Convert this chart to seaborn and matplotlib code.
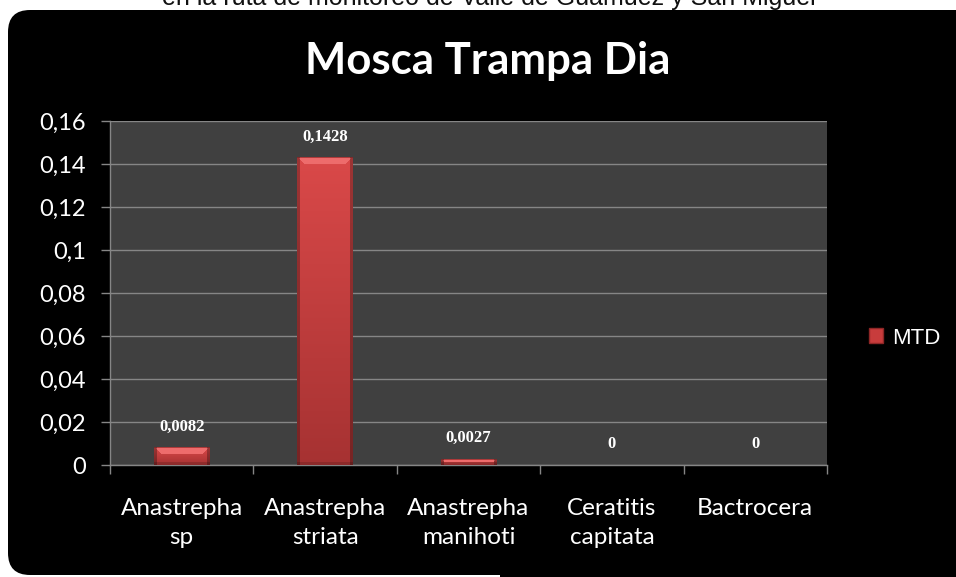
import numpy as np
import matplotlib
matplotlib.use("Agg")
import matplotlib.pyplot as plt
import seaborn as sns
from matplotlib.patches import FancyBboxPatch, Rectangle, Patch
from matplotlib.transforms import IdentityTransform
from matplotlib.colors import to_rgb

# ---------------- data ----------------
categories = ["Anastrepha\nsp", "Anastrepha\nstriata", "Anastrepha\nmanihoti",
              "Ceratitis\ncapitata", "Bactrocera"]
mtd_values = [0.0082, 0.1428, 0.0027, 0.0, 0.0]
value_labels = ["0,0082", "0,1428", "0,0027", "0", "0"]
y_ticks = [0.0, 0.02, 0.04, 0.06, 0.08, 0.10, 0.12, 0.14, 0.16]
y_tick_labels = ["0", "0,02", "0,04", "0,06", "0,08", "0,1", "0,12", "0,14", "0,16"]
title_text = "Mosca Trampa Dia"
caption_text = "en la ruta de monitoreo de Valle de Guamuez y San Miguel"
series_name = "MTD"

# ---------------- figure ----------------
W, H = 956, 577
fig = plt.figure(figsize=(W / 100, H / 100), dpi=100, facecolor="white")

# black rounded chart background (pixel coordinates)
bg = FancyBboxPatch((8, 2), 1000, H - 10 - 2,
                    boxstyle="round,pad=0,rounding_size=22",
                    transform=IdentityTransform(), facecolor="black",
                    edgecolor="none", zorder=-2)
fig.add_artist(bg)
fig.add_artist(Rectangle((500, -5), 500, 30, transform=IdentityTransform(),
                         facecolor="black", edgecolor="none", zorder=-2))

# caption (cut at top, as in the source image)
fig.text(489 / W, (H - 5) / H, caption_text, ha="center", va="baseline",
         fontsize=18, family="Liberation Sans", color="#111111")

# title
fig.text(488 / W, (H - 61) / H, title_text, ha="center", va="center",
         fontsize=31.5, family="Lato", fontweight="bold", color="white")

# axes
ax = fig.add_axes([110 / W, 112 / H, 717 / W, 344 / H])
ax.set_facecolor("#404040")

bar_color = "#C83C3C"
sns.barplot(x=categories, y=mtd_values, color=bar_color, width=0.39,
            saturation=1, ax=ax, zorder=3)

ax.set_xlim(-0.5, len(categories) - 0.5)
ax.set_ylim(0, 0.16)

# shaded/bevelled bar faces drawn over each seaborn bar
px_per_unit = 344 / 0.16
top_c = np.array(to_rgb("#DA4949"))
bot_c = np.array(to_rgb("#A63232"))
light_c = np.array(to_rgb("#EE6C6C"))
for p in list(ax.patches):
    h = p.get_height()
    if h <= 0:
        continue
    x0, w = p.get_x(), p.get_width()
    ny = max(int(round(h * px_per_unit)), 2)
    nx = 56
    rr, cc = np.mgrid[0:ny, 0:nx]
    frac = (rr / max(ny - 1, 1))[..., None]
    img = top_c + (bot_c - top_c) * frac
    b = min(7, ny // 2)
    bevel = (rr < b) & (cc >= rr + 1) & (cc < nx - rr - 1) & (rr >= 1)
    img[bevel] = light_c
    side = (cc < 3) | (cc >= nx - 3)
    img[side] = img[side] * 0.72
    bottom = rr >= ny - 3
    img[bottom] = img[bottom] * 0.85
    img[rr == 0] = img[rr == 0] * 0.8
    ax.imshow(np.clip(img, 0, 1), extent=[x0, x0 + w, 0, h], aspect="auto",
              interpolation="bilinear", zorder=3.5)

ax.set_xlim(-0.5, len(categories) - 0.5)
ax.set_ylim(0, 0.16)

# data labels
for p, lab in zip(ax.patches, value_labels):
    ax.annotate(lab, (p.get_x() + p.get_width() / 2, p.get_height()),
                xytext=(0, 15), textcoords="offset points",
                ha="center", va="center", color="white", fontsize=12,
                fontweight="bold", family="Liberation Serif", zorder=5)

# grid / spines / ticks
grid_c = "#868686"
ax.set_axisbelow(True)
ax.yaxis.grid(True, color=grid_c, linewidth=1.0)
ax.xaxis.grid(False)
for s in ["top", "right"]:
    ax.spines[s].set_visible(False)
for s in ["left", "bottom"]:
    ax.spines[s].set_color(grid_c)
    ax.spines[s].set_linewidth(1.0)

ax.set_yticks(y_ticks)
ax.set_yticklabels(y_tick_labels)
ax.tick_params(axis="y", colors=grid_c, length=6.5, width=1, pad=11,
               labelcolor="white", labelsize=17)
for t in ax.get_yticklabels():
    t.set_family("Lato")

ax.set_xticks(range(len(categories)))
ax.set_xticklabels(categories, linespacing=1.45)
ax.set_xticks(np.arange(-0.5, len(categories), 1.0), minor=True)
ax.tick_params(axis="x", which="major", length=0, pad=24,
               labelcolor="white", labelsize=17.5)
ax.tick_params(axis="x", which="minor", length=6.5, width=1, colors=grid_c)
for t in ax.get_xticklabels():
    t.set_family("Lato")
ax.set_xlabel("")
ax.set_ylabel("")

# legend
handle = Patch(facecolor=bar_color, edgecolor="#8E2626")
fig.legend(handles=[handle], labels=[series_name], loc="center left",
           bbox_to_anchor=(869 / W, (H - 338) / H), frameon=False,
           prop=dict(family="Liberation Sans", size=16), labelcolor="white",
           handlelength=0.65, handleheight=0.65, handletextpad=0.4,
           borderpad=0, borderaxespad=0)

fig.savefig("out.png", dpi=100, facecolor="white")
